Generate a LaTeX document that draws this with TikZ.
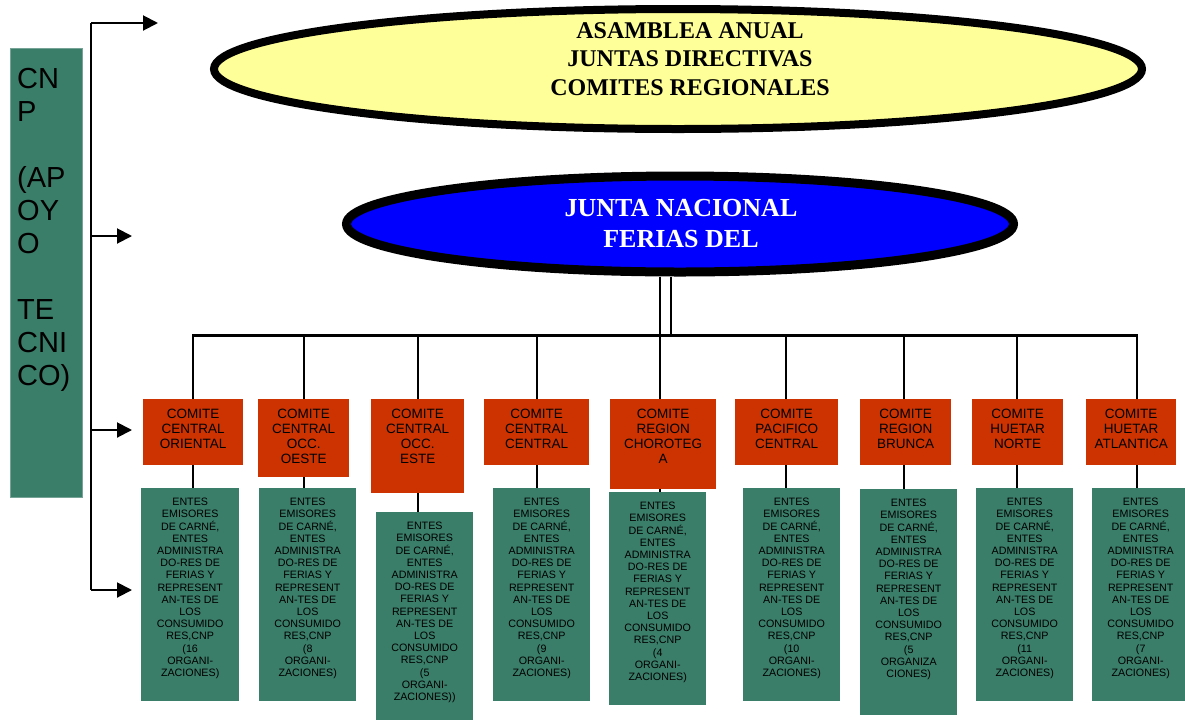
\documentclass[tikz,border=0pt]{standalone}
\usepackage{fontspec}
\setmainfont{Liberation Serif}
\newfontfamily\arialf{Liberation Sans}
\usetikzlibrary{shapes.geometric,arrows.meta}
\definecolor{cnpgreen}{HTML}{3A7D69}
\definecolor{comred}{HTML}{CC3300}
\definecolor{asyellow}{HTML}{FFFF99}
\definecolor{jnblue}{HTML}{0000FF}
\newcommand\entestext[1]{ENTES\\EMISORES\\DE CARNÉ,\\ENTES\\ADMINISTRA\\DO-RES DE\\FERIAS Y\\REPRESENT\\AN-TES DE\\LOS\\CONSUMIDO\\RES,CNP\\#1}
\begin{document}
\begin{tikzpicture}[x=1pt,y=-1pt,
  conn/.style={line width=2pt,black},
  barline/.style={line width=3pt,black},
  arr/.style={conn,-{Triangle[length=15pt,width=15pt]}},
  comitebox/.style={fill=comred,draw=none,inner sep=0pt,anchor=north west},
  comitetext/.style={font=\arialf\fontsize{13.5}{15}\selectfont,align=center,inner sep=0pt,anchor=north,yshift=-10pt},
  entesbox/.style={fill=cnpgreen,draw=none,inner sep=0pt,anchor=north west},
  entestextst/.style={font=\arialf\fontsize{10.7}{12.2}\selectfont,align=center,inner sep=0pt,anchor=north,yshift=-10pt},
  oval/.style={ellipse,draw=black,inner sep=0pt}
]
\useasboundingbox (0,0) rectangle (1185,721);

% CNP box
\node[fill=cnpgreen,draw=cnpgreen!70!white,line width=0.8pt,inner sep=0pt,anchor=north west,minimum width=72pt,minimum height=449pt] (cnp) at (10,48) {};
\node[font=\arialf\fontsize{29}{33}\selectfont,align=left,inner sep=0pt,anchor=north west] (cnpt) at (17,68) {CN\\P\\[33pt](AP\\OY\\O\\[33pt]TE\\CNI\\CO)};

% ellipses
\node[oval,fill=asyellow,line width=8pt,minimum width=928pt,minimum height=120pt] (asam) at (678,69) {};
\node[font=\fontsize{24}{28.5}\selectfont\bfseries,align=center,inner sep=0pt,anchor=north] (asamt) at (690,22) {ASAMBLEA ANUAL\\JUNTAS DIRECTIVAS\\COMITES REGIONALES};
\node[oval,fill=jnblue,line width=9pt,minimum width=667pt,minimum height=96pt] (jn) at (680,224) {};
\node[font=\fontsize{26}{31}\selectfont\bfseries,text=white,align=center,inner sep=0pt,anchor=north] (jnt) at (681,199) {JUNTA NACIONAL\\FERIAS DEL};

% left support line and arrows
\coordinate (s1) at (91,23);
\coordinate (s2) at (91,236);
\coordinate (s3) at (91,430);
\coordinate (s4) at (91,590);
\coordinate (t1) at (158,23);
\coordinate (t2) at (132,236);
\coordinate (t3) at (132,430);
\coordinate (t4) at (132,590);
\draw[conn] (s1) -- (s4);
\draw[arr] (s1) -- (t1);
\draw[arr] (s2) -- (t2);
\draw[arr] (s3) -- (t3);
\draw[arr] (s4) -- (t4);

% comite boxes
\node[comitebox,minimum width=100pt,minimum height=66pt] (r1) at (143,399) {};
\node[comitebox,minimum width=91pt,minimum height=78pt] (r2) at (258,399) {};
\node[comitebox,minimum width=93pt,minimum height=94pt] (r3) at (371,399) {};
\node[comitebox,minimum width=105pt,minimum height=66pt] (r4) at (484,399) {};
\node[comitebox,minimum width=106pt,minimum height=90pt] (r5) at (610,399) {};
\node[comitebox,minimum width=103pt,minimum height=66pt] (r6) at (735,399) {};
\node[comitebox,minimum width=91pt,minimum height=66pt] (r7) at (860,399) {};
\node[comitebox,minimum width=91pt,minimum height=66pt] (r8) at (972,399) {};
\node[comitebox,minimum width=90pt,minimum height=66pt] (r9) at (1086,399) {};
\node[comitetext] (r1t) at (r1.north) {COMITE\\CENTRAL\\ORIENTAL};
\node[comitetext] (r2t) at (r2.north) {COMITE\\CENTRAL\\OCC.\\OESTE};
\node[comitetext] (r3t) at (r3.north) {COMITE\\CENTRAL\\OCC.\\ESTE};
\node[comitetext] (r4t) at (r4.north) {COMITE\\CENTRAL\\CENTRAL};
\node[comitetext] (r5t) at (r5.north) {COMITE\\REGION\\CHOROTEG\\A};
\node[comitetext] (r6t) at (r6.north) {COMITE\\PACIFICO\\CENTRAL};
\node[comitetext] (r7t) at (r7.north) {COMITE\\REGION\\BRUNCA};
\node[comitetext] (r8t) at (r8.north) {COMITE\\HUETAR\\NORTE};
\node[comitetext] (r9t) at (r9.north) {COMITE\\HUETAR\\ATLANTICA};

% entes boxes
\node[entesbox,minimum width=98pt,minimum height=213pt] (g1) at (141,488) {};
\node[entesbox,minimum width=97pt,minimum height=213pt] (g2) at (259,488) {};
\node[entesbox,minimum width=97pt,minimum height=208pt] (g3) at (376,512) {};
\node[entesbox,minimum width=97pt,minimum height=213pt] (g4) at (493,488) {};
\node[entesbox,minimum width=97pt,minimum height=213pt] (g5) at (609,492) {};
\node[entesbox,minimum width=97pt,minimum height=213pt] (g6) at (743,488) {};
\node[entesbox,minimum width=97pt,minimum height=226pt] (g7) at (860,489) {};
\node[entesbox,minimum width=97pt,minimum height=213pt] (g8) at (976,488) {};
\node[entesbox,minimum width=97pt,minimum height=213pt] (g9) at (1092,488) {};
\node[entestextst] (g1t) at (g1.north) {\entestext{(16\\ORGANI-\\ZACIONES)}};
\node[entestextst] (g2t) at (g2.north) {\entestext{(8\\ORGANI-\\ZACIONES)}};
\node[entestextst] (g3t) at (g3.north) {\entestext{(5\\ORGANI-\\ZACIONES))}};
\node[entestextst] (g4t) at (g4.north) {\entestext{(9\\ORGANI-\\ZACIONES)}};
\node[entestextst] (g5t) at (g5.north) {\entestext{(4\\ORGANI-\\ZACIONES)}};
\node[entestextst] (g6t) at (g6.north) {\entestext{(10\\ORGANI-\\ZACIONES)}};
\node[entestextst] (g7t) at (g7.north) {\entestext{(5\\ORGANIZA\\CIONES)}};
\node[entestextst] (g8t) at (g8.north) {\entestext{(11\\ORGANI-\\ZACIONES)}};
\node[entestextst] (g9t) at (g9.north) {\entestext{(7\\ORGANI-\\ZACIONES)}};

% tree connectors
\coordinate (b1) at (193,335);
\coordinate (b2) at (304,335);
\coordinate (b3) at (418,335);
\coordinate (b4) at (537,335);
\coordinate (b5) at (660,335);
\coordinate (b6) at (786,335);
\coordinate (b7) at (904,335);
\coordinate (b8) at (1017,335);
\coordinate (b9) at (1137,335);
\coordinate (dd) at (671,335);
\draw[conn] (b5 |- jn.south) -- (b5);
\draw[conn] (dd |- jn.south) -- (dd);
\draw[barline] (b1) -- (b9);
\foreach \k in {1,...,9}{
  \draw[conn] ([yshift=1pt]b\k) -- (b\k |- r\k.north);
  \draw[conn] (b\k |- r\k.south) -- (b\k |- g\k.north);
}
\end{tikzpicture}
\end{document}
